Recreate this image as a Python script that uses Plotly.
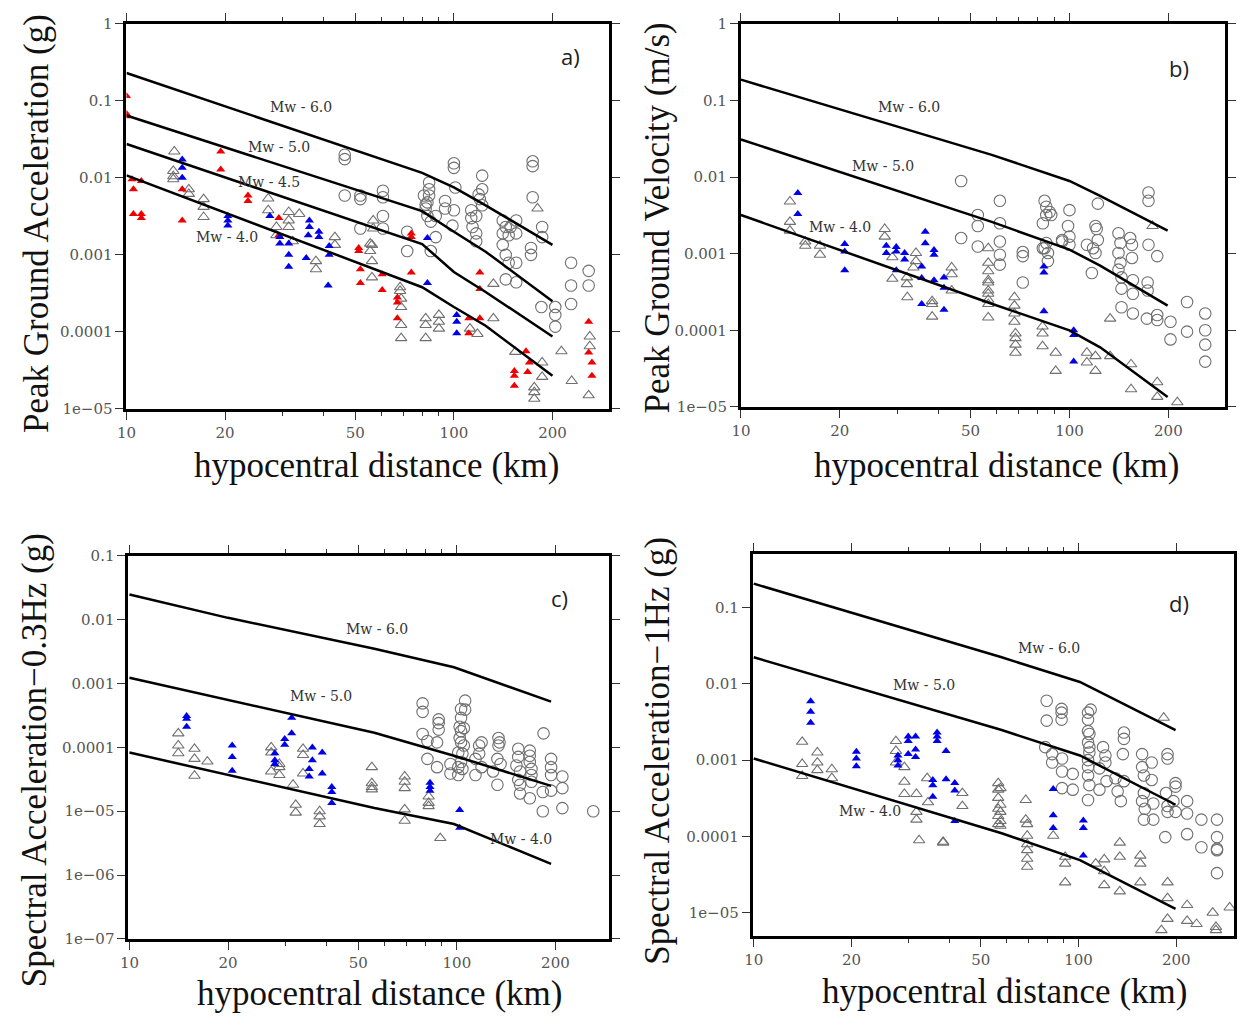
import plotly.graph_objects as go

W, H = 1245, 1022
OFF = 8  # default page margin of the browser
FW, FH = W - OFF, H - 2 * OFF

# ---------------- DATA ----------------
dist_ticks = [10, 20, 30, 40, 50, 60, 70, 80, 90, 100, 200]
dist_labels = ["10", "20", "", "", "50", "", "", "", "", "100", "200"]
major_dist = [10, 20, 50, 100, 200]

# Panel a : PGA (g)
a_red_x = [10, 10, 10, 10.4, 11.1, 10.5, 10.5, 11.1, 11.1, 14.8, 14.8, 19.4, 19.4, 23.5, 23.5, 29.2, 29.2,
           51.2, 51.2, 51.8, 51.8, 74.1, 74.1, 74.1, 60.4, 60.4, 67.2, 67.2, 67.2, 120, 120, 111, 120, 111,
           153, 153, 153, 166, 170, 168, 258, 258, 264, 264]
a_red_y = [0.116, 0.068, 0.063, 0.0096, 0.0091, 0.0071, 0.0034, 0.0034, 0.0030, 0.0028, 0.0071, 0.022, 0.0128,
           0.0059, 0.0050, 0.0030, 0.0018, 0.00123, 0.00112, 0.00065, 0.00043, 0.0019, 0.0017, 0.00059,
           0.00056, 0.00035, 0.00028, 0.00024, 0.00015, 0.00059, 0.00036, 0.00015, 0.00015, 9.6e-5,
           3.1e-5, 2.7e-5, 2.0e-5, 5.6e-5, 4.0e-5, 3.0e-5, 1.35e-4, 5.4e-5, 4.0e-5, 2.7e-5]
a_blue_x = [14.8, 14.8, 14.8, 20.4, 20.4, 20.4, 27.4, 29.4, 31.3, 31.3, 31.3, 35.4, 36.2, 36.2, 35.9, 38.7,
            38.7, 41.6, 41.6, 41.3, 29.4, 83, 83, 102, 102, 102]
a_blue_y = [0.0173, 0.0135, 0.0100, 0.0032, 0.0028, 0.0024, 0.0032, 0.0014, 0.0014, 0.0010, 0.00070, 0.00091,
            0.0028, 0.0023, 0.0018, 0.0020, 0.0017, 0.0013, 0.0010, 0.00040, 0.0017, 0.00165, 0.00043,
            1.66e-4, 1.35e-4, 9.6e-5]
a_tri_x = [14.0, 13.9, 13.9, 13.9, 15.5, 15.5, 17.2, 17.2, 17.2, 27.1, 27.1, 31.3, 31.3, 31.3, 33.7, 28.7,
           28.7, 32.2, 37.9, 37.9, 43.3, 43.3, 56.2, 56.2, 56.2, 56.7, 56.7, 55.5, 55.5, 68.5, 68.5, 69, 69,
           69, 69, 82, 82, 82, 90, 90, 90, 112, 118, 132, 132, 154, 180, 186, 186, 176, 176, 176, 213, 229,
           260, 260, 258]
a_tri_y = [0.022, 0.0123, 0.0105, 0.0096, 0.0071, 0.0062, 0.0053, 0.0042, 0.0031, 0.0054, 0.0038, 0.0036,
           0.0028, 0.0023, 0.0034, 0.0023, 0.0018, 0.0015, 0.00083, 0.00065, 0.0017, 0.00135, 0.00135,
           0.00083, 0.00051, 0.0028, 0.0022, 0.0014, 0.00112, 0.00038, 0.00034, 0.00027, 0.00021, 1.23e-4,
           8.3e-5, 1.5e-4, 1.23e-4, 8.3e-5, 1.66e-4, 1.35e-4, 1.1e-4, 1.1e-4, 9.4e-5, 0.00042, 1.5e-4,
           5.5e-5, 0.0040, 4e-5, 2.6e-5, 1.9e-5, 1.65e-5, 1.35e-5, 5.6e-5, 2.3e-5, 8.7e-5, 6.5e-5, 1.5e-5]
a_circ_x = [46.4, 46.4, 46.4, 51.8, 51.8, 51.8, 60.7, 60.7, 60.7, 60.7, 72, 72, 84, 84, 84, 83, 82, 83, 85,
            88, 85, 81, 82, 88, 94, 94, 100, 99, 100, 100, 101, 122, 122, 119, 120, 122, 113, 113, 117, 114,
            117, 117, 141, 144, 149, 155, 141, 147, 141, 144, 147, 155, 155, 144, 155, 174, 174, 174, 186,
            186, 172, 172, 228, 228, 228, 258, 258, 185, 204, 204, 204]
a_circ_y = [0.020, 0.0175, 0.0059, 0.0059, 0.0053, 0.0022, 0.0068, 0.0056, 0.0032, 0.0022, 0.0020, 0.00112,
            0.0087, 0.0071, 0.0059, 0.0048, 0.0040, 0.0032, 0.0027, 0.0017, 0.00112, 0.0059, 0.0045, 0.0032,
            0.0050, 0.0040, 0.0038, 0.0024, 0.0155, 0.0135, 0.0075, 0.0107, 0.0071, 0.0061, 0.0053, 0.0044,
            0.0038, 0.0030, 0.0032, 0.0023, 0.0019, 0.0015, 0.0028, 0.0023, 0.0023, 0.0028, 0.0019, 0.0018,
            0.00135, 0.0010, 0.00079, 0.0019, 0.00079, 0.00048, 0.00044, 0.0164, 0.0142, 0.0056, 0.0023,
            0.0017, 0.00123, 0.0010, 0.00079, 0.00040, 0.00023, 0.00062, 0.00040, 0.00021, 0.00021, 1.66e-4,
            1.17e-4]
a_curve_x = [10, 80, 100, 125, 200]
a_mw6 = [0.23, 0.0116, 0.0075, 0.0044, 0.00135]
a_mw5 = [0.0646, 0.0037, 0.0020, 0.0011, 0.00025]
a_mw45 = [0.0275, 0.00138, 0.0006, 0.00033, 8.7e-5]
a_mw4 = [0.0108, 0.00038, 0.00021, 0.00012, 2.7e-5]

# Panel b : PGV (m/s)
b_blue_x = [14.9, 14.9, 20.7, 20.7, 20.7, 27.7, 27.7, 29.7, 29.7, 31.5, 31.5, 36.4, 36.4, 38.7, 38.7, 35.5,
            35.5, 29.7, 38.7, 41.5, 41.5, 41.5, 35.5, 83.6, 83.6, 83.6, 103, 103, 103]
b_blue_y = [0.0062, 0.0033, 0.00134, 0.00107, 0.00061, 0.00127, 0.00102, 0.00122, 0.00107, 0.00102, 0.00084,
            0.00194, 0.00137, 0.00112, 0.00097, 0.00068, 0.00048, 0.00061, 0.00045, 0.00049, 0.00036,
            0.000186, 0.00022, 0.00068, 0.00057, 0.000177, 1.0e-4, 8.7e-5, 3.9e-5]
b_tri_x = [14.1, 14.1, 14.1, 15.7, 15.7, 17.4, 17.4, 27.4, 27.4, 28.9, 28.9, 34.1, 34.1, 33.5, 32.0, 32.0,
           32.1, 38.2, 38.2, 38.2, 43.8, 43.8, 43.8, 56.6, 56.6, 56.6, 56.6, 56.6, 56.6, 56.6, 56.6, 56.6,
           56.6, 68, 68, 68, 68, 68.5, 68.5, 68.5, 68.5, 82.8, 82.8, 82.8, 90.8, 90.8, 113, 113, 120, 120,
           133, 133, 154, 154, 179, 185, 185, 213]
b_tri_y = [0.0048, 0.0026, 0.0020, 0.00144, 0.00127, 0.00127, 0.00097, 0.0021, 0.00167, 0.00090, 0.00047,
           0.00102, 0.00080, 0.00066, 0.00049, 0.00040, 0.00027, 0.00024, 0.00022, 0.000151, 0.00066,
           0.00054, 0.00033, 0.00118, 0.00076, 0.00059, 0.00042, 0.00030, 0.00022, 0.000147, 0.00045,
           0.00033, 0.00025, 0.00027, 0.00021, 0.000166, 0.000129, 9.1e-5, 7.9e-5, 6.5e-5, 5.1e-5,
           0.000112, 9.1e-5, 6.2e-5, 5.1e-5, 2.95e-5, 5.1e-5, 3.8e-5, 4.6e-5, 2.95e-5, 0.000142, 4.6e-5,
           3.6e-5, 1.7e-5, 0.0023, 2.1e-5, 1.35e-5, 1.15e-5]
b_circ_x = [46.8, 52.6, 52.6, 46.8, 52.6, 61.4, 61.4, 61.4, 61.4, 61.4, 72.1, 72.1, 72.1, 84, 85, 85, 87, 88,
            83, 85, 84, 86, 83, 86, 100, 99, 100, 95, 95, 100, 113, 118, 120, 117, 122, 120, 121, 122, 141,
            143, 141, 143, 141, 144, 153, 155, 155, 144, 156, 156, 144, 156, 174, 174, 174, 173, 173, 185,
            172, 185, 185, 203, 203, 228, 228, 259, 259, 259, 259]
b_circ_y = [0.0089, 0.0032, 0.0023, 0.0016, 0.00124, 0.0049, 0.0025, 0.00144, 0.00097, 0.00072, 0.00105,
            0.00093, 0.00042, 0.0049, 0.0041, 0.0032, 0.0035, 0.0032, 0.0025, 0.00138, 0.00118, 0.00102,
            0.00118, 0.00080, 0.0037, 0.0023, 0.00167, 0.00151, 0.00144, 0.00131, 0.00131, 0.00118,
            0.00102, 0.00056, 0.0045, 0.0023, 0.0021, 0.00151, 0.00185, 0.00138, 0.00102, 0.00076,
            0.00062, 0.00049, 0.0016, 0.00131, 0.00088, 0.00035, 0.00045, 0.00030, 0.0002, 0.000166,
            0.0063, 0.0049, 0.00131, 0.00042, 0.00033, 0.00093, 0.000142, 0.000158, 0.000136, 0.000129,
            7.6e-5, 0.000234, 9.6e-5, 0.000166, 1.0e-4, 6.5e-5, 3.9e-5]
b_curve_x = [10, 58, 100, 124, 199]
b_mw6 = [0.187, 0.0195, 0.0089, 0.0057, 0.0020]
b_mw5 = [0.031, 0.0026, 0.00113, 0.0007, 0.00021]
b_mw4 = [0.0032, 0.000222, 1.0e-4, 6.0e-5, 1.35e-5]

# Panel c : SA 0.3 Hz (g)
c_blue_x = [14.95, 14.95, 14.95, 20.6, 20.6, 20.6, 27.8, 27.8, 27.8, 29.8, 29.8, 31.3, 31.3, 36.2, 36.2,
            38.8, 35.4, 35.4, 38.8, 41.5, 41.5, 41.5, 82.8, 82.8, 82.8, 102, 102]
c_blue_y = [0.00031, 0.00028, 0.00021, 0.000107, 7.1e-5, 4.3e-5, 8.1e-5, 6.3e-5, 5.5e-5, 0.000135, 0.00011,
            0.00029, 0.000166, 1.0e-4, 6.3e-5, 8.3e-5, 4.6e-5, 3.5e-5, 3.9e-5, 2.4e-5, 2.0e-5, 1.35e-5,
            2.8e-5, 2.4e-5, 2.1e-5, 1.05e-5, 5.5e-6]
c_tri_x = [14.1, 14.1, 14.1, 15.8, 15.8, 15.8, 17.3, 27.1, 27.1, 27.1, 28.7, 28.7, 28.7, 31.6, 32.2, 32.2,
           33.9, 33.9, 33.9, 38.1, 38.1, 38.1, 55, 55, 55, 55, 69.3, 69.3, 69.3, 69.3, 69.3, 82, 82, 82, 89]
c_tri_y = [0.000166, 0.000107, 8.1e-5, 9.5e-5, 6.6e-5, 3.6e-5, 6.0e-5, 1.0e-4, 8.3e-5, 4.2e-5, 5.5e-5,
           4.9e-5, 3.7e-5, 2.6e-5, 1.26e-5, 9.5e-6, 9.5e-5, 7.6e-5, 3.9e-5, 1.0e-5, 8.3e-6, 6.3e-6, 4.9e-5,
           2.75e-5, 2.4e-5, 2.2e-5, 3.5e-5, 2.9e-5, 2.3e-5, 1.07e-5, 7.1e-6, 1.7e-5, 1.35e-5, 1.2e-5,
           3.8e-6]
c_circ_x = [78.6, 78.6, 78.6, 81.3, 81.3, 88, 88, 88, 87, 87, 95.6, 95.6, 106, 103, 106, 103, 102, 103, 105,
            102, 103, 105, 101, 104, 103, 101, 104, 101, 114, 114, 117, 119, 117, 119, 129, 134, 135, 134,
            133, 136, 133, 154, 154, 152, 156, 154, 156, 156, 167, 167, 167, 169, 169, 169, 167, 183, 183,
            184, 194, 194, 194, 194, 210, 210, 210, 261]
c_circ_y = [0.00049, 0.00036, 0.000162, 0.000126, 6.6e-5, 0.000275, 0.00024, 0.00019, 0.00012, 4.9e-5,
            5.5e-5, 3.9e-5, 0.00054, 0.0004, 0.00039, 0.00029, 0.00021, 0.00018, 0.0002, 0.00014, 0.00012,
            0.000107, 8.3e-5, 8e-5, 5.9e-5, 4.9e-5, 4.6e-5, 3.7e-5, 6.6e-5, 3.7e-5, 1.07e-4, 1.2e-4, 8e-5,
            4.9e-5, 4.2e-5, 0.00014, 0.00012, 0.000107, 6.6e-5, 5.5e-5, 2.6e-5, 9.5e-5, 7.1e-5, 5.2e-5,
            4.2e-5, 3.1e-5, 2.6e-5, 1.9e-5, 8.9e-5, 7.4e-5, 5.9e-5, 4.6e-5, 3.7e-5, 2.9e-5, 1.6e-5, 2.0e-5,
            1.0e-5, 0.000166, 6.6e-5, 4.9e-5, 3.7e-5, 2.1e-5, 3.5e-5, 2.3e-5, 1.12e-5, 1.0e-5]
c_curve_x = [10, 20, 56, 98, 194]
c_mw6 = [0.0248, 0.0107, 0.0035, 0.0018, 0.00052]
c_mw5 = [0.00123, 0.00055, 0.00017, 7.4e-5, 2.5e-5]
c_mw4 = [8.3e-5, 3.7e-5, 1.12e-5, 6.3e-6, 1.5e-6]

# Panel d : SA 1 Hz (g)
d_blue_x = [14.97, 14.97, 14.97, 20.7, 20.7, 20.7, 27.8, 27.8, 27.8, 29.9, 29.9, 31.5, 29.9, 31.5, 31.5,
            36.7, 36.7, 36.7, 39.1, 35.6, 35.6, 35.6, 39.1, 41.6, 41.6, 41.6, 83.6, 83.6, 83.6, 103.5,
            103.5, 103.5]
d_blue_y = [0.0059, 0.0043, 0.0031, 0.00129, 0.00105, 0.00083, 0.00115, 0.0010, 0.00085, 0.00204, 0.00178,
            0.00204, 0.0012, 0.00138, 0.0011, 0.0023, 0.00204, 0.00178, 0.00132, 0.00055, 0.00047, 0.00033,
            0.00056, 0.0005, 0.0004, 0.000159, 0.00042, 0.00019, 0.000129, 0.000162, 0.000129, 5.6e-5]
d_tri_x = [14.1, 14.1, 14.1, 15.7, 15.7, 15.7, 17.4, 17.4, 27.4, 27.4, 27.4, 29.1, 29.1, 29.1, 34.2, 31.7,
           31.7, 31.7, 34.4, 32.3, 38.3, 38.3, 43.9, 43.9, 56.6, 56.6, 56.6, 56.6, 56.6, 56.6, 57.5, 57.5,
           57.5, 57.5, 57.5, 68.8, 68.8, 69.5, 69.5, 69.5, 69.5, 69.5, 69.5, 83.6, 91, 91, 91, 113, 120, 120,
           120, 134, 134, 134, 155, 155, 155, 183, 188, 188, 188, 180, 216, 216, 231, 259, 265, 265, 292]
d_tri_y = [0.00174, 0.00089, 0.00062, 0.00126, 0.00093, 0.00074, 0.00076, 0.00058, 0.00178, 0.00132,
           0.00093, 0.00081, 0.00052, 0.00036, 0.00058, 0.00036, 0.00021, 0.000166, 0.00028, 8.9e-5, 8.5e-5,
           8.3e-5, 0.00037, 0.00025, 0.0005, 0.00041, 0.00032, 0.00023, 0.000185, 0.000145, 0.00043,
           0.00026, 0.00021, 0.000159, 0.000138, 0.0003, 0.000166, 0.000145, 0.000102, 7.9e-5, 6.6e-5,
           5.1e-5, 4.0e-5, 0.000102, 5.4e-5, 4.4e-5, 2.5e-5, 4.4e-5, 5.0e-5, 3.5e-5, 2.3e-5, 8.3e-5, 5.4e-5,
           1.9e-5, 5.6e-5, 4.4e-5, 2.5e-5, 0.0036, 2.5e-5, 1.55e-5, 8.3e-6, 5.9e-6, 1.26e-5, 7.8e-6,
           7.1e-6, 1.0e-5, 6.5e-6, 5.9e-6, 1.17e-5]
d_circ_x = [79.8, 79.8, 88.7, 88.7, 88.7, 79, 83, 83, 89, 89, 89, 96, 96, 107, 109, 107, 107, 108, 107, 108,
            108, 107, 107, 107, 108, 107, 116, 119, 121, 121, 122, 116, 130, 132, 135, 138, 138, 137, 138,
            157, 157, 159, 168, 168, 159, 157, 160, 170, 170, 159, 188, 188, 199, 199, 186, 188, 188, 196,
            199, 185, 216, 216, 216, 239, 239, 267, 267, 267, 267, 267]
d_circ_y = [0.006, 0.0033, 0.0047, 0.0042, 0.0034, 0.00148, 0.0012, 0.00093, 0.00105, 0.00071, 0.00043,
            0.00066, 0.00041, 0.0042, 0.0046, 0.0034, 0.0024, 0.0022, 0.0017, 0.00148, 0.00126, 0.001,
            0.00081, 0.00063, 0.00047, 0.0003, 0.00078, 0.00148, 0.00115, 0.00093, 0.00053, 0.00041,
            0.00058, 0.00039, 0.00029, 0.0023, 0.0019, 0.0012, 0.00053, 0.0012, 0.00081, 0.00063, 0.00093,
            0.00055, 0.00037, 0.00029, 0.00023, 0.00027, 0.000166, 0.000166, 0.0012, 0.00105, 0.0005,
            0.00045, 0.00037, 0.00025, 0.00021, 0.00029, 0.00021, 9.8e-5, 0.00029, 0.0002, 0.000107,
            0.000166, 7.2e-5, 0.000166, 9.8e-5, 6.9e-5, 6.6e-5, 3.3e-5]
d_curve_x = [10, 58, 101, 199]
d_mw6 = [0.206, 0.0223, 0.0106, 0.00248]
d_mw5 = [0.0223, 0.00248, 0.00115, 0.00026]
d_mw4 = [0.00105, 0.00011, 4.9e-5, 1.12e-5]

ya_vals = [1, 0.1, 0.01, 0.001, 0.0001, 1e-5]
ya_labels = ["1", "0.1", "0.01", "0.001", "0.0001", "1e\u221205"]
yc_vals = [0.1, 0.01, 0.001, 0.0001, 1e-5, 1e-6, 1e-7]
yc_labels = ["0.1", "0.01", "0.001", "0.0001", "1e\u221205", "1e\u221206", "1e\u221207"]
yd_vals = [0.1, 0.01, 0.001, 0.0001, 1e-5]
yd_labels = ["0.1", "0.01", "0.001", "0.0001", "1e\u221205"]

# ---------------- FIGURE ----------------
fig = go.Figure()
GRAY = "#707070"
BLUE = "#0000e6"
RED = "#ee0000"


def axnames(ax):
    return ("x" if ax == 1 else f"x{ax}"), ("y" if ax == 1 else f"y{ax}")


def add_points(ax, circ, tri, blue, red=None):
    xa, ya = axnames(ax)
    fig.add_trace(go.Scatter(x=circ[0], y=circ[1], mode="markers", xaxis=xa, yaxis=ya,
                             marker=dict(symbol="circle-open", size=11.5, color=GRAY, line=dict(width=1.1))))
    fig.add_trace(go.Scatter(x=tri[0], y=tri[1], mode="markers", xaxis=xa, yaxis=ya,
                             marker=dict(symbol="triangle-up-open", size=10, color=GRAY, line=dict(width=1.1))))
    if red is not None:
        fig.add_trace(go.Scatter(x=red[0], y=red[1], mode="markers", xaxis=xa, yaxis=ya,
                                 marker=dict(symbol="triangle-up", size=8, color=RED)))
    fig.add_trace(go.Scatter(x=blue[0], y=blue[1], mode="markers", xaxis=xa, yaxis=ya,
                             marker=dict(symbol="triangle-up", size=8, color=BLUE)))


def add_curves(ax, cx, curves):
    xa, ya = axnames(ax)
    for cy in curves:
        fig.add_trace(go.Scatter(x=cx, y=cy, mode="lines", xaxis=xa, yaxis=ya,
                                 line=dict(color="black", width=2.5)))


add_points(1, (a_circ_x, a_circ_y), (a_tri_x, a_tri_y), (a_blue_x, a_blue_y), (a_red_x, a_red_y))
add_curves(1, a_curve_x, [a_mw6, a_mw5, a_mw45, a_mw4])
add_points(2, (b_circ_x, b_circ_y), (b_tri_x, b_tri_y), (b_blue_x, b_blue_y))
add_curves(2, b_curve_x, [b_mw6, b_mw5, b_mw4])
add_points(3, (c_circ_x, c_circ_y), (c_tri_x, c_tri_y), (c_blue_x, c_blue_y))
add_curves(3, c_curve_x, [c_mw6, c_mw5, c_mw4])
add_points(4, (d_circ_x, d_circ_y), (d_tri_x, d_tri_y), (d_blue_x, d_blue_y))
add_curves(4, d_curve_x, [d_mw6, d_mw5, d_mw4])

TICKFONT = dict(family="DejaVu Serif", size=15, color="#555")


def xaxis_cfg(dom, rng, anchor):
    return dict(type="log", domain=dom, range=rng, anchor=anchor,
                tickmode="array", tickvals=major_dist,
                ticktext=[dist_labels[dist_ticks.index(v)] for v in major_dist],
                ticks="outside", ticklen=8, tickwidth=1, tickcolor="#333",
                minor=dict(tickmode="array", tickvals=[v for v in dist_ticks if v not in major_dist],
                           ticks="outside", ticklen=4, tickwidth=1, tickcolor="#333"),
                showline=True, linewidth=3, linecolor="black", mirror="ticks",
                showgrid=False, zeroline=False, tickfont=TICKFONT)


def yaxis_cfg(dom, rng, anchor, vals, labels):
    return dict(type="log", domain=dom, range=rng, anchor=anchor,
                tickmode="array", tickvals=vals, ticktext=labels,
                ticks="outside", ticklen=8, tickwidth=1, tickcolor="#333",
                showline=True, linewidth=3, linecolor="black", mirror="ticks",
                showgrid=False, zeroline=False, tickfont=TICKFONT)


def fx(px):
    return (px - OFF) / FW


def fy(py):
    return 1 - (py - OFF) / FH


layout = dict(
    width=FW, height=FH, margin=dict(l=0, r=0, t=0, b=0),
    paper_bgcolor="white", plot_bgcolor="white", showlegend=False,
    xaxis=xaxis_cfg([fx(118), fx(607)], [1, 2.473], "y"),
    yaxis=yaxis_cfg([fy(407), fy(15)], [-5, 0], "x", ya_vals, ya_labels),
    xaxis2=xaxis_cfg([fx(741), fx(1232)], [1, 2.474], "y2"),
    yaxis2=yaxis_cfg([fy(405), fy(15)], [-5, 0], "x2", ya_vals, ya_labels),
    xaxis3=xaxis_cfg([fx(120), fx(607)], [0.997, 2.464], "y3"),
    yaxis3=yaxis_cfg([fy(946.7), fy(556.7)], [-7, -1], "x3", yc_vals, yc_labels),
    xaxis4=xaxis_cfg([fx(753), fx(1241)], [0.997, 2.479], "y4"),
    yaxis4=yaxis_cfg([fy(943.3), fy(555)], [-5.3, -0.3], "x4", yd_vals, yd_labels),
)
fig.update_layout(**layout)

ann = []
LBL = dict(family="DejaVu Serif", size=14, color="#333")
mw_labels = [
    ("x", "y", 1.533, -1.084, "Mw - 6.0"), ("x", "y", 1.467, -1.594, "Mw - 5.0"),
    ("x", "y", 1.434, -2.054, "Mw - 4.5"), ("x", "y", 1.307, -2.768, "Mw - 4.0"),
    ("x2", "y2", 1.513, -1.090, "Mw - 6.0"), ("x2", "y2", 1.432, -1.859, "Mw - 5.0"),
    ("x2", "y2", 1.302, -2.65, "Mw - 4.0"),
    ("x3", "y3", 1.756, -2.143, "Mw - 6.0"), ("x3", "y3", 1.584, -3.19, "Mw - 5.0"),
    ("x3", "y3", 2.196, -5.435, "Mw - 4.0"),
    ("x4", "y4", 1.908, -1.524, "Mw - 6.0"), ("x4", "y4", 1.524, -2.017, "Mw - 5.0"),
    ("x4", "y4", 1.357, -3.669, "Mw - 4.0"),
]
for xr, yr, lx, ly, t in mw_labels:
    ann.append(dict(xref=xr, yref=yr, x=lx, y=ly, text=t, showarrow=False, font=LBL,
                    xanchor="center", yanchor="middle"))
for xr, yr, lx, ly, t in [("x", "y", 2.355, -0.421, "a)"), ("x2", "y2", 2.333, -0.577, "b)"),
                          ("x3", "y3", 2.313, -1.666, "c)"), ("x4", "y4", 2.309, -0.945, "d)")]:
    ann.append(dict(xref=xr, yref=yr, x=lx, y=ly, text=t, showarrow=False,
                    font=dict(family="Open Sans", size=22, color="#222"), xanchor="center", yanchor="middle"))

TITLE = dict(family="Liberation Serif", size=35, color="#111")
for px, py, t, ang in [
    (372, 465, "hypocentral distance (km)", 0), (1000, 465, "hypocentral distance (km)", 0),
    (375, 1002, "hypocentral distance (km)", 0), (1008, 1000, "hypocentral distance (km)", 0),
    (27, 218, "Peak Ground Acceleration (g)", -90), (656, 213, "Peak Ground Velocity (m/s)", -90),
    (25, 765, "Spectral Acceleration\u22120.3Hz (g)", -90), (657, 755, "Spectral Acceleration\u22121Hz (g)", -90),
]:
    ann.append(dict(xref="paper", yref="paper", x=fx(px), y=fy(py), text=t, showarrow=False, font=TITLE,
                    textangle=ang, xanchor="center", yanchor="middle"))
fig.update_layout(annotations=ann)

fig.write_html("out.html", config={"displayModeBar": False})
